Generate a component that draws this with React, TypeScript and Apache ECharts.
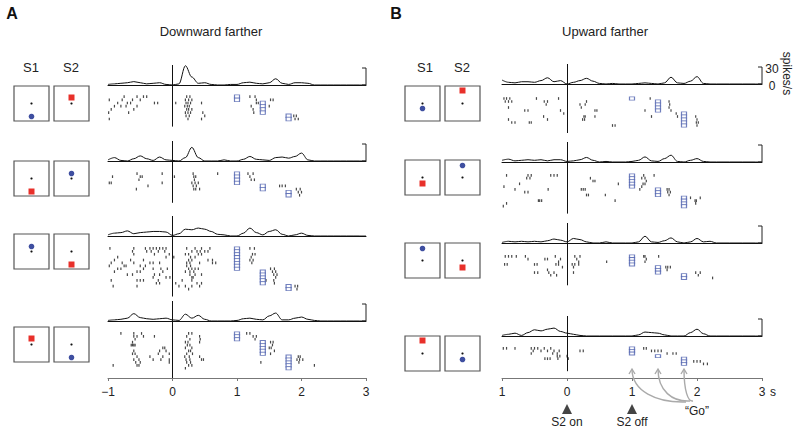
import React, { useEffect, useRef } from "react";
import * as echarts from "echarts";

// ---------- DATA ----------
const TIMES = [
  -1.0, -0.9, -0.8, -0.7, -0.6, -0.5, -0.4, -0.3, -0.2, -0.1,
  0.0, 0.1, 0.2, 0.3, 0.4, 0.5, 0.6, 0.7, 0.8, 0.9,
  1.0, 1.1, 1.2, 1.3, 1.4, 1.5, 1.6, 1.7, 1.8, 1.9,
  2.0, 2.1, 2.2, 2.3, 2.4, 2.5, 2.6, 2.7, 2.8, 2.9, 3.0,
];

// PSTH firing rates (spikes/s)
const psthA1 = [1,2,3,4,6,4,2,3,4,1, 0,2,34,14,3,4,1,0,0,1, 1,4,5,3,2,4,11,3,1,4, 4,3,0,0,0,0,0,0,0,0,0];
const psthA2 = [2,6,1,0,4,9,4,1,7,2, 1,0,6,24,6,0,0,0,2,0, 0,3,8,3,2,1,6,7,5,8, 14,2,0,0,0,0,0,0,0,0,0];
const psthA3 = [2,5,6,9,4,6,7,8,8,7, 1,4,12,11,14,12,8,3,2,0, 0,5,14,6,2,8,11,3,0,2, 5,1,0,0,0,0,0,0,0,0,0];
const psthA4 = [1,2,3,5,13,6,4,3,4,5, 2,1,12,5,10,3,0,0,0,0, 1,4,5,3,2,9,14,2,2,5, 7,3,1,0,0,0,0,0,0,0,0];
const psthB1 = [7,3,2,4,4,3,6,11,4,6, 0,3,6,10,5,1,0,1,0,0, 0,1,2,1,0,2,12,2,1,5, 13,1,0,0,0,0,0,0,0,0,0];
const psthB2 = [3,5,2,3,4,3,4,2,4,4, 1,2,4,8,3,0,1,0,0,0, 1,3,9,2,1,6,12,1,0,3, 6,1,0,0,0,0,0,0,0,0,0];
const psthB3 = [1,3,2,3,2,3,2,4,7,5, 2,8,6,2,0,0,2,0,0,0, 0,2,12,2,1,4,9,2,0,2, 8,2,3,0,0,0,0,0,0,0,0];
const psthB4 = [1,3,5,1,6,11,9,12,14,8, 5,3,1,0,0,0,0,0,0,0, 0,2,7,6,5,2,0,0,0,6, 12,4,0,0,0,0,0,0,0,0,0];

// Spike times (s) per trial
const spikesA1 = [
  [-0.75, -0.55, -0.45, -0.4, 0.22, 0.27, 1.2, 1.28],
  [-0.98, -0.78, -0.62, -0.5, 0.2, 0.25, 0.3, 1.3, 1.52, 1.56],
  [-0.85, -0.7, -0.65, -0.28, -0.23, 0.05, 0.21, 0.24, 0.28, 0.45, 1.3, 1.33],
  [-0.9, -0.8, -0.72, -0.55, 0.19, 0.23, 0.26, 1.22, 1.5],
  [-0.95, -0.6, 0.22, 0.25, 0.3, 1.25, 1.38],
  [-0.99, -0.68, 0.2, 0.24, 0.28, 0.47, 1.26],
  [0.21, 0.26, 0.5, 1.88, 1.92],
  [-0.98, 0.24, 0.45, 1.9, 1.95],
];
const spikesA2 = [
  [-0.55, -0.16, 0.32, 0.7, 1.17, 1.25],
  [-0.93, -0.5, -0.47, 0.03, 0.33, 0.36, 1.2],
  [-0.52, 0.34, 1.22, 1.27],
  [-0.98, -0.95, -0.16, 0.3, 0.35, 0.4],
  [-0.38, 0.32, 0.37, 1.66, 1.7, 1.75],
  [-0.56, 0.33, 0.36, 0.42, 1.92, 1.98],
  [1.95, 2.0],
  [1.97],
];
const spikesA3 = [
  [-0.97, -0.6, -0.42, -0.35, -0.3, -0.25, -0.2, -0.15, -0.1, 0.22, 0.35, 0.45, 0.58, 1.2, 1.27],
  [-0.62, -0.4, -0.33, -0.22, -0.12, 0.3, 0.38, 0.43, 0.5, 0.55],
  [-0.6, -0.28, -0.05, 0.2, 0.25, 0.4, 0.45, 1.24, 1.28],
  [-0.85, -0.1, 0.02, 0.28, 0.35, 1.22],
  [-0.9, -0.65, -0.45, 0.25, 0.3, 0.55, 0.62, 1.2, 1.25],
  [-0.95, -0.78, -0.6, -0.35, -0.3, -0.2, 0.22, 0.27, 0.42, 0.62, 0.67, 1.23],
  [-0.98, -0.75, -0.72, -0.5, -0.42, 0.22, 0.28],
  [-0.85, -0.8, -0.45, -0.3, -0.18, -0.08, 0.25, 0.3, 0.35, 0.4, 1.52, 1.58],
  [-0.9, -0.55, -0.5, -0.15, 0.2, 0.27, 0.33, 1.55, 1.6],
  [-0.7, -0.62, -0.28, -0.2, 0.27, 0.35, 0.45, 1.57, 1.62],
  [-0.3, -0.1, -0.04, 0.3, 0.32, 1.6],
  [-0.95, -0.55, -0.5, -0.45, -0.22, 0.15, 0.3, 1.45, 1.57],
  [-0.25, -0.2, 0.05, 0.38, 0.45, 1.58],
  [-0.92, -0.55, 0.1, 0.2, 0.3, 0.42, 1.9, 1.94],
  [0.25, 1.93],
];
const spikesA4 = [
  [-0.8, -0.6, -0.48, 0.25, 0.3, 1.15, 1.2],
  [-0.6, -0.55, -0.45, -0.28, 0.22, 0.42, 1.25, 1.3],
  [-0.58, 0.27, 0.43, 1.28],
  [-0.62, 0.2, 0.24, 0.42, 1.52, 1.56],
  [-0.64, -0.62, -0.6, -0.58, 0.23, 0.27, 1.55],
  [-0.15, -0.12, 0.2, 0.3, 1.5, 1.53],
  [-0.6, -0.2, -0.1, 0.25, 0.28, 1.58],
  [-0.62, -0.58, -0.22, -0.05, 0.22, 0.31, 1.52],
  [-0.55, -0.35, -0.15, 0.19, 0.26, 0.42, 1.95, 1.98],
  [-0.6, -0.52, -0.3, -0.18, -0.05, 0.21, 0.27, 0.45, 0.48, 1.93, 1.97, 2.02],
  [-0.57, -0.5, -0.05, 0.22, 0.28, 1.37, 1.96],
  [-0.92, -0.55, -0.52, 0.25, 0.3, 2.2],
  [0.2],
];
const spikesB1 = [
  [-0.97, -0.93, -0.88, -0.47, -0.13, 1.28],
  [-0.95, -0.9, -0.85, -0.35, -0.3, 0.3, 1.57],
  [-0.32, 0.2, 0.28, 1.58],
  [-0.9, 0.22, 1.57],
  [-0.65, -0.6, -0.1, 0.43, 0.46, 1.2, 1.6],
  [-0.05, 1.68],
  [-0.36, 0.26, 0.28, 0.43, 1.3, 1.7, 1.98],
  [-0.9, -0.3, 0.24, 0.27, 2.0],
  [-0.85, -0.8, -0.58, -0.55, 1.99, 2.02],
  [0.7, 0.74, 2.0],
];
const spikesB2 = [
  [-0.93, -0.6, -0.55, -0.25, -0.2, -0.15, 1.18, 1.34],
  [-0.62, -0.57, 0.36, 1.15, 1.2],
  [0.4, 0.43, 1.22],
  [-0.73, 0.79, 1.17, 1.2],
  [-0.97, 1.15],
  [-0.8, -0.29, 0.22, 0.25, 0.28, 1.12, 1.54, 1.57],
  [-0.65, -0.6, 1.55, 1.59],
  [0.3, 0.33, 0.59, 1.57],
  [1.9, 2.05],
  [-0.44, -0.42, -0.39, 0.74, 1.97, 1.99],
  [-0.93, 1.98],
  [-0.98],
];
const spikesB3 = [
  [-0.95, -0.9, -0.85, -0.78, -0.64, -0.18, 0.12, 0.2, 1.18, 1.2, 1.41],
  [-0.6, -0.34, -0.3, -0.1, 0.15, 1.22],
  [-0.13, 0.18, 0.61, 1.2],
  [-0.96, -0.92, -0.5, -0.46, -0.17, -0.13, 0.08, 0.12, 0.18],
  [-0.07, 0.1, 1.52, 1.55, 1.59],
  [-0.3, 1.54],
  [-0.5, -0.45, -0.28, -0.2, 0.1, 1.98, 2.05],
  [-0.25, -0.16, 2.02],
  [2.24],
];
const spikesB4 = [
  [-0.98, -0.93, -0.8, -0.55, -0.5, -0.45, -0.35, -0.25, 1.18, 1.22],
  [-0.52, -0.4, -0.3, -0.2, -0.12, 0.2, 0.25, 1.3, 1.35, 1.4, 1.45],
  [-0.55, -0.22, -0.15, 1.54, 1.63, 1.68],
  [-0.15, -0.11, 0.0],
  [-0.34, -0.3, -0.26, -0.14, 0.02],
  [1.95, 2.0, 2.05],
  [2.1, 2.16],
];

// "Go" times per trial
const goA1 = [1, 1, 1.4, 1.4, 1.4, 1.4, 1.8, 1.8];
const goA2 = [1, 1, 1, 1, 1.4, 1.4, 1.8, 1.8];
const goA3 = [1, 1, 1, 1, 1, 1, 1, 1, 1.4, 1.4, 1.4, 1.4, 1.4, 1.8, 1.8];
const goA4 = [1, 1, 1, 1.4, 1.4, 1.4, 1.4, 1.4, 1.8, 1.8, 1.8, 1.8, 1.8];
const goB1 = [1, 1.4, 1.4, 1.4, 1.4, 1.8, 1.8, 1.8, 1.8, 1.8];
const goB2 = [1, 1, 1, 1, 1, 1.4, 1.4, 1.4, 1.8, 1.8, 1.8, 1.8];
const goB3 = [1, 1, 1, 1, 1.4, 1.4, 1.4, 1.8, 1.8];
const goB4 = [1, 1, 1, 1.4, 1.8, 1.8, 1.8];

const TICKS_A = ["\u22121", "0", "1", "2", "3"];
const TICKS_B = ["1", "0", "1", "2", "3"];

// stimulus icons: [colour, offset of the stimulus from fixation in box units]
const STIM_A = [
  [["blue", 13], ["red", -6]],
  [["red", 13], ["blue", -5]],
  [["blue", -5], ["red", 13]],
  [["red", -6], ["blue", 13]],
];
const STIM_B = [
  [["blue", 5], ["red", -13]],
  [["red", 6], ["blue", -12]],
  [["blue", -12], ["red", 7]],
  [["red", -13], ["blue", 6]],
];

// ---------- LAYOUT ----------
const FONT = "'Liberation Sans', Arial, sans-serif";
const PX30 = 17; // pixels per 30 spikes/s
const LAYOUT = [
  { left: 108, width: 258, baseline: [85, 161, 236, 321], rasterTop: [95, 172, 247, 332], th: [3.2, 3.1, 2.9, 2.9], boxX: [14, 54], boxY: [86, 161, 234, 327] },
  { left: 502, width: 260, baseline: [84, 162, 243, 336], rasterTop: [97, 174, 255, 347], th: [3.0, 2.8, 2.7, 2.6], boxX: [405, 445], boxY: [86, 160, 243, 336] },
];
const AXIS_Y = 378;
const BRACKET_ROWS = [0, 1, 3, 4, 5, 6, 7];

const CONDS = [
  { psth: psthA1, spikes: spikesA1, go: goA1 },
  { psth: psthA2, spikes: spikesA2, go: goA2 },
  { psth: psthA3, spikes: spikesA3, go: goA3 },
  { psth: psthA4, spikes: spikesA4, go: goA4 },
  { psth: psthB1, spikes: spikesB1, go: goB1 },
  { psth: psthB2, spikes: spikesB2, go: goB2 },
  { psth: psthB3, spikes: spikesB3, go: goB3 },
  { psth: psthB4, spikes: spikesB4, go: goB4 },
];

function buildOption() {
  const grid: any[] = [];
  const xAxis: any[] = [];
  const yAxis: any[] = [];
  const series: any[] = [];
  const bottoms: number[] = [];
  CONDS.forEach((c, k) => {
    const L = LAYOUT[k < 4 ? 0 : 1];
    const r = k % 4;
    const base = L.baseline[r];
    const rTop = L.rasterTop[r];
    const th = L.th[r];
    const n = c.go.length;
    const top = base - 20;
    const bottom = k === 3 ? AXIS_Y : rTop + n * th + 6;
    bottoms.push(bottom);
    const H = bottom - top;
    grid.push({ left: L.left, width: L.width, top, height: H });
    xAxis.push({
      type: "value", gridIndex: k, min: -1, max: 3, interval: 1, position: "top",
      axisLine: { show: true, onZero: true, onZeroAxisIndex: 2 * k, lineStyle: { color: "#111", width: 1 } },
      axisTick: { show: false }, axisLabel: { show: false }, splitLine: { show: false },
    });
    yAxis.push({
      type: "value", gridIndex: k, show: false,
      min: (-(top + H - base) * 30) / PX30, max: ((base - top) * 30) / PX30,
      splitLine: { show: false },
    });
    const rmin = -(rTop - top) / th - 0.5;
    yAxis.push({
      type: "value", gridIndex: k, show: false, inverse: true,
      min: rmin, max: rmin + H / th, splitLine: { show: false },
    });
    series.push({
      type: "line", xAxisIndex: k, yAxisIndex: 2 * k, clip: false,
      data: TIMES.map((t, i) => [t, c.psth[i]]),
      smooth: 0.35, smoothMonotone: "x", symbol: "none",
      lineStyle: { color: "#111", width: 1 },
    });
    const pts: number[][] = [];
    c.spikes.forEach((tr, i) => tr.forEach((t) => pts.push([t, i])));
    series.push({
      type: "scatter", xAxisIndex: k, yAxisIndex: 2 * k + 1,
      data: pts, symbol: "rect", symbolSize: [1.2, 2.7],
      itemStyle: { color: "#1a1a1a" },
      markLine: {
        silent: true, symbol: ["none", "none"], label: { show: false },
        lineStyle: { color: "#111", width: 1, type: "solid" },
        data: [{ xAxis: 0 }],
      },
    });
    series.push({
      type: "scatter", xAxisIndex: k, yAxisIndex: 2 * k + 1,
      data: c.go.map((g, i) => [g, i]), symbol: "rect", symbolSize: [5, th + 0.4],
      itemStyle: { color: "#ffffff", borderColor: "#4e60ae", borderWidth: 1 },
      z: 3,
    });
  });
  // bottom labelled axes
  [3, 7].forEach((k, j) => {
    const labels = j === 0 ? TICKS_A : TICKS_B;
    xAxis.push({
      type: "value", gridIndex: k, min: -1, max: 3, interval: 1, position: "bottom",
      offset: AXIS_Y - bottoms[k],
      axisLine: { show: true, onZero: false, lineStyle: { color: "#777", width: 1 } },
      axisTick: { show: true, length: 3, lineStyle: { color: "#777" } },
      axisLabel: {
        show: true, margin: 8, fontSize: 12, color: "#222", fontFamily: FONT,
        formatter: (v: number) => labels[Math.round(v) + 1],
      },
      splitLine: { show: false },
    });
  });
  return { animation: false, grid, xAxis, yAxis, series };
}

function txt(text: string, x: number, y: number, size: number, extra: any = {}) {
  return {
    type: "text", x, y, z: 10,
    style: {
      text, fill: "#222", fontSize: size, fontFamily: FONT,
      align: "center", verticalAlign: "middle", textAlign: "center", textVerticalAlign: "middle",
      ...(extra.style || {}),
    },
    ...(extra.el || {}),
  };
}

function staticGraphics() {
  const g: any[] = [];
  g.push(txt("A", 12, 13, 16, { style: { fontWeight: "bold", fill: "#111" } }));
  g.push(txt("B", 396, 13, 16, { style: { fontWeight: "bold", fill: "#111" } }));
  g.push(txt("Downward farther", 211, 31, 13));
  g.push(txt("Upward farther", 605, 31, 13));
  [[31, 71], [425, 462]].forEach(([a, b]) => {
    g.push(txt("S1", a, 67, 13));
    g.push(txt("S2", b, 67, 13));
  });
  [STIM_A, STIM_B].forEach((stims, p) => {
    const L = LAYOUT[p];
    stims.forEach((row, r) => {
      row.forEach((s: any, col) => {
        const bx = L.boxX[col];
        const by = L.boxY[r];
        const cx = bx + 17.5;
        const cy = by + 17.5;
        g.push({ type: "rect", z: 5, shape: { x: bx, y: by, width: 35, height: 35 }, style: { fill: "#fff", stroke: "#555", lineWidth: 1.2 } });
        g.push({ type: "circle", z: 6, shape: { cx, cy, r: 1.1 }, style: { fill: "#111" } });
        const sy = cy + s[1];
        if (s[0] === "blue") {
          g.push({ type: "circle", z: 6, shape: { cx, cy: sy, r: 2.8 }, style: { fill: "#3f4fa0" } });
        } else {
          g.push({ type: "rect", z: 6, shape: { x: cx - 3, y: sy - 3, width: 6, height: 6 }, style: { fill: "#e8302a" } });
        }
      });
    });
  });
  return g;
}

export default function App() {
  const ref = useRef<HTMLDivElement>(null);
  useEffect(() => {
    if (!ref.current) return;
    const chart = echarts.init(ref.current, undefined, { renderer: "svg" });
    chart.setOption(buildOption());
    const px = (xi: number, v: number) => chart.convertToPixel({ xAxisIndex: xi } as any, v) as unknown as number;
    const py = (yi: number, v: number) => chart.convertToPixel({ yAxisIndex: yi } as any, v) as unknown as number;
    const g = staticGraphics();
    BRACKET_ROWS.forEach((k) => {
      const x = px(k, 3);
      const y0 = py(2 * k, 0);
      const y1 = py(2 * k, 30);
      g.push({ type: "polyline", z: 8, shape: { points: [[x - 4, y1], [x, y1], [x, y0], [x - 4, y0]] }, style: { stroke: "#222", lineWidth: 1, fill: null } });
      if (k === 4) {
        g.push(txt("30", x + 10, y1 + 2, 12));
        g.push(txt("0", x + 10, y0 + 2, 12));
        g.push(txt("spikes/s", x + 25, (y0 + y1) / 2 - 2, 12, { el: { rotation: -Math.PI / 2 } }));
      }
    });
    // unit on B axis
    g.push(txt("s", px(9, 3) + 11, AXIS_Y + 14, 12));
    // S2 on / off markers
    [[0, "S2 on"], [1, "S2 off"]].forEach(([t, label]: any) => {
      const x = px(9, t);
      g.push({ type: "polygon", z: 8, shape: { points: [[x - 5, 414], [x + 5, 414], [x, 404]] }, style: { fill: "#444" } });
      g.push(txt(label, x, 422, 12));
    });
    // "Go" annotation with arrows
    g.push(txt("\u201cGo\u201d", 697, 411, 12));
    const goTs = [1, 1.4, 1.8];
    const starts = [[686, 402], [690, 401], [693, 401]];
    goTs.forEach((t, i) => {
      const x = px(9, t);
      const yEnd = 369;
      const [sx, sy] = starts[i];
      g.push({
        type: "bezierCurve", z: 8,
        shape: { x1: sx, y1: sy, x2: x, y2: yEnd, cpx1: sx - (sx - x) * 0.55, cpy1: sy + 1, cpx2: x, cpy2: yEnd + 22 },
        style: { stroke: "#aaa", lineWidth: 1.4, fill: null },
      });
      g.push({ type: "polyline", z: 8, shape: { points: [[x - 3, yEnd + 5], [x, yEnd], [x + 3, yEnd + 5]] }, style: { stroke: "#aaa", lineWidth: 1.4, fill: null } });
    });
    chart.setOption({ graphic: g });
    return () => chart.dispose();
  }, []);
  return (
    <div
      ref={ref}
      style={{ position: "fixed", left: 0, top: 0, width: 800, height: 430, background: "#fff" }}
    />
  );
}
